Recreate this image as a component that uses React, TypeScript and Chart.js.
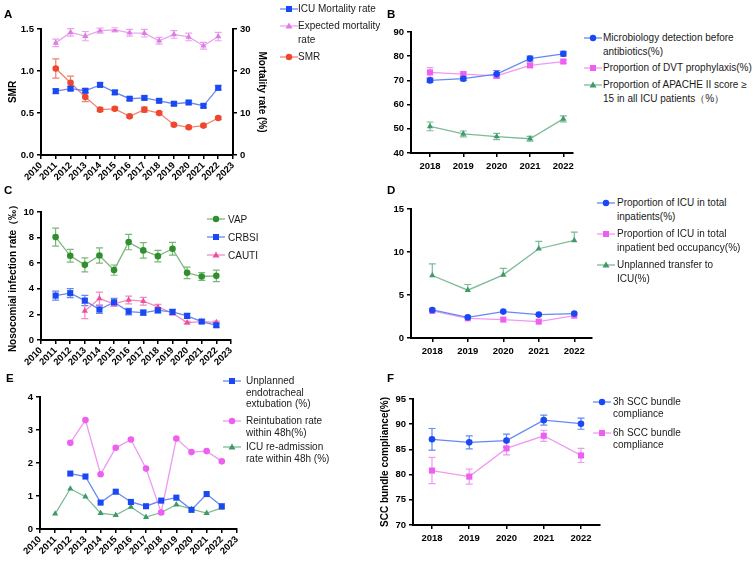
import React, { useEffect, useRef } from "react";
import Chart from "chart.js/auto";

// ---- data ----
const yearsLong = [2010, 2011, 2012, 2013, 2014, 2015, 2016, 2017, 2018, 2019, 2020, 2021, 2022, 2023];
const years11to22 = [2011, 2012, 2013, 2014, 2015, 2016, 2017, 2018, 2019, 2020, 2021, 2022];
const years12to22 = [2012, 2013, 2014, 2015, 2016, 2017, 2018, 2019, 2020, 2021, 2022];
const years13to22 = [2013, 2014, 2015, 2016, 2017, 2018, 2019, 2020, 2021, 2022];
const years5 = [2018, 2019, 2020, 2021, 2022];

// A
const icuMortality = [15.2, 15.8, 15.3, 16.7, 14.9, 13.4, 13.6, 12.9, 12.2, 12.5, 11.7, 16.0];
const icuMortalityErr = [0.5, 0.5, 0.5, 0.5, 0.5, 0.4, 0.4, 0.4, 0.4, 0.4, 0.4, 0.5];
const expMortality = [26.7, 29.2, 28.3, 29.6, 29.8, 29.1, 29.0, 27.2, 28.7, 28.1, 26.0, 28.2];
const expMortalityErr = [0.9, 0.9, 1.1, 0.6, 0.5, 0.8, 0.9, 0.8, 0.9, 0.9, 0.8, 1.0];
const smr = [1.03, 0.86, 0.69, 0.54, 0.55, 0.46, 0.54, 0.5, 0.36, 0.33, 0.35, 0.44];
const smrErr = [0.115, 0.08, 0.055, 0.02, 0.02, 0.015, 0.03, 0.015, 0.015, 0.015, 0.015, 0.015];

// B
const microDetection = [70.0, 70.7, 72.6, 79.0, 81.0];
const microDetectionErr = [0.8, 0.8, 1.5, 1.0, 1.0];
const dvtProphylaxis = [73.3, 72.6, 71.9, 76.2, 77.8];
const dvtProphylaxisErr = [2.0, 0.8, 0.8, 0.8, 0.8];
const apache15 = [51.0, 47.9, 46.8, 45.9, 54.1];
const apache15Err = [1.8, 1.2, 1.3, 1.0, 1.2];

// C
const vap = [8.04, 6.58, 5.87, 6.6, 5.46, 7.65, 7.0, 6.55, 7.13, 5.25, 4.96, 5.01];
const vapErr = [0.7, 0.5, 0.55, 0.6, 0.4, 0.6, 0.6, 0.45, 0.5, 0.45, 0.3, 0.45];
const crbsi = [3.47, 3.66, 3.08, 2.38, 2.95, 2.22, 2.14, 2.32, 2.19, 1.88, 1.44, 1.15];
const crbsiErr = [0.35, 0.35, 0.4, 0.3, 0.3, 0.25, 0.2, 0.2, 0.2, 0.2, 0.15, 0.15];
const cauti = [2.27, 3.24, 2.82, 3.13, 3.03, 2.58, 2.09, 1.36, 1.44, 1.38];
const cautiErr = [0.6, 0.5, 0.2, 0.3, 0.3, 0.2, 0.15, 0.1, 0.1, 0.1];

// D
const icuInpatients = [3.26, 2.41, 3.07, 2.72, 2.84];
const icuBedOccupancy = [3.15, 2.29, 2.14, 1.9, 2.6];
const unplannedTransfer = [7.27, 5.56, 7.34, 10.38, 11.35];
const unplannedTransferErr = [1.36, 0.66, 0.75, 0.85, 0.95];

// E
const unplannedExtubation = [1.68, 1.59, 0.8, 1.13, 0.82, 0.69, 0.86, 0.95, 0.58, 1.06, 0.69];
const reintubation = [2.61, 3.3, 1.66, 2.46, 2.71, 1.83, 0.5, 2.74, 2.33, 2.36, 2.05];
const readmission = [0.46, 1.22, 0.98, 0.48, 0.42, 0.67, 0.36, 0.5, 0.74, 0.6, 0.48, 0.64];

// F
const scc3h = [87.0, 86.4, 86.75, 90.8, 90.1];
const scc3hErr = [2.15, 1.3, 1.3, 1.0, 1.1];
const scc6h = [80.8, 79.6, 85.2, 87.7, 83.8];
const scc6hErr = [2.6, 1.5, 1.3, 1.1, 1.4];

// ---- colours ----
const BLUE = "#1a48f2";
const BLUE_L = "#6688f2";
const PINK = "#ee5ff0";
const PINK_L = "#f099f2";
const VIOLET = "#e07be6";
const VIOLET_L = "#eaa4ee";
const RED = "#ef4630";
const RED_L = "#f3816f";
const GREEN = "#2f8f2f";
const GREEN_L = "#79b879";
const TEAL = "#3f9a68";
const TEAL_L = "#7cbb98";
const ROSE = "#ee4f9e";
const ROSE_L = "#f28bc2";

const FONT = "'Liberation Sans', Arial, Helvetica, sans-serif";

const pts = (xs: number[], ys: number[]) => xs.map((x, i) => ({ x, y: ys[i] }));

// error bars drawn behind the points
const errorBars = {
  id: "errorBars",
  beforeDatasetsDraw(chart: any) {
    const ctx = chart.ctx;
    chart.data.datasets.forEach((ds: any, i: number) => {
      if (!ds.errors) return;
      const meta = chart.getDatasetMeta(i);
      const yScale = chart.scales[meta.yAxisID];
      ctx.save();
      ctx.strokeStyle = ds.borderColor;
      ctx.lineWidth = 1.2;
      meta.data.forEach((pt: any, j: number) => {
        const e = ds.errors[j];
        if (!e) return;
        const v = ds.data[j].y;
        const top = yScale.getPixelForValue(v + e);
        const bot = ds.upperOnly ? pt.y : yScale.getPixelForValue(v - e);
        ctx.beginPath();
        ctx.moveTo(pt.x, top);
        ctx.lineTo(pt.x, bot);
        ctx.moveTo(pt.x - 3.5, top);
        ctx.lineTo(pt.x + 3.5, top);
        if (!ds.upperOnly) {
          ctx.moveTo(pt.x - 3.5, bot);
          ctx.lineTo(pt.x + 3.5, bot);
        }
        ctx.stroke();
      });
      ctx.restore();
    });
  },
};

function series(
  xs: number[],
  ys: number[],
  color: string,
  lineColor: string,
  shape: string,
  errors?: number[],
  extra: any = {}
) {
  const radius = shape === "rect" ? 4.3 : shape === "triangle" ? 3.6 : 3.3;
  return {
    data: pts(xs, ys),
    borderColor: lineColor,
    backgroundColor: color,
    pointBackgroundColor: color,
    pointBorderColor: color,
    pointBorderWidth: 0,
    pointStyle: shape,
    pointRadius: radius,
    pointHoverRadius: radius,
    borderWidth: 1.3,
    tension: 0,
    fill: false,
    errors,
    ...extra,
  };
}

const tickFont = { family: FONT, weight: "bold" as const, size: 9.5 };
const titleFont = { family: FONT, weight: "bold" as const, size: 10 };

function axisY(opts: {
  min: number;
  max: number;
  step: number;
  width: number;
  title?: string;
  titleGap?: number;
  position?: string;
  decimals?: number;
}) {
  return {
    type: "linear",
    position: opts.position || "left",
    min: opts.min,
    max: opts.max,
    ticks: {
      stepSize: opts.step,
      color: "#000",
      font: tickFont,
      padding: 3,
      callback: (v: any) => Number(v).toFixed(opts.decimals || 0),
    },
    grid: { drawOnChartArea: false, drawTicks: true, tickLength: 4, color: "#000", lineWidth: 1.5 },
    border: { display: true, color: "#000", width: 2 },
    title: opts.title
      ? {
          display: true,
          text: opts.title,
          color: "#000",
          font: titleFont,
          padding: { top: opts.titleGap || 0, bottom: 2 },
        }
      : { display: false },
    afterFit: (s: any) => {
      s.width = opts.width;
    },
  };
}

function axisX(min: number, max: number, ticks: number[], height: number, rotate: boolean) {
  return {
    type: "linear",
    min,
    max,
    afterBuildTicks: (s: any) => {
      s.ticks = ticks.map((value) => ({ value }));
    },
    ticks: {
      autoSkip: false,
      color: "#000",
      font: tickFont,
      padding: rotate ? 1 : 4,
      maxRotation: rotate ? 45 : 0,
      minRotation: rotate ? 45 : 0,
      callback: (v: any) => String(v),
    },
    grid: { drawOnChartArea: false, drawTicks: true, tickLength: 4, color: "#000", lineWidth: 1.5 },
    border: { display: true, color: "#000", width: 2 },
    afterFit: (s: any) => {
      s.height = height;
    },
  };
}

function baseOptions(scales: any, padding: any) {
  return {
    responsive: true,
    maintainAspectRatio: false,
    animation: false,
    layout: { padding },
    plugins: { legend: { display: false }, tooltip: { enabled: false } },
    scales,
  };
}

const configA = {
  type: "line",
  data: {
    datasets: [
      series(years11to22, icuMortality, BLUE, BLUE_L, "rect", icuMortalityErr, { yAxisID: "y1" }),
      series(years11to22, expMortality, VIOLET, VIOLET_L, "triangle", expMortalityErr, { yAxisID: "y1" }),
      series(years11to22, smr, RED, RED_L, "circle", smrErr, { yAxisID: "y" }),
    ],
  },
  options: baseOptions(
    {
      x: axisX(2010, 2023, yearsLong, 30, true),
      y: axisY({ min: 0, max: 1.5, step: 0.5, width: 41, title: "SMR", titleGap: 7, decimals: 1 }),
      y1: axisY({
        min: 0,
        max: 30,
        step: 10,
        width: 42,
        title: "Mortality rate (%)",
        titleGap: 7,
        position: "right",
      }),
    },
    { top: 29, right: 0, left: 0, bottom: 0 }
  ),
  plugins: [errorBars],
};

const configB = {
  type: "line",
  data: {
    datasets: [
      series(years5, microDetection, BLUE, BLUE_L, "circle", microDetectionErr),
      series(years5, dvtProphylaxis, PINK, PINK_L, "rect", dvtProphylaxisErr),
      series(years5, apache15, TEAL, TEAL_L, "triangle", apache15Err),
    ],
  },
  options: baseOptions(
    {
      x: axisX(2017.43, 2022.29, years5, 27, false),
      y: axisY({ min: 40, max: 90, step: 10, width: 41 }),
    },
    { top: 32, right: 7, left: 0, bottom: 0 }
  ),
  plugins: [errorBars],
};

const configC = {
  type: "line",
  data: {
    datasets: [
      series(years11to22, vap, GREEN, GREEN_L, "circle", vapErr),
      series(years11to22, crbsi, BLUE, BLUE_L, "rect", crbsiErr),
      series(years13to22, cauti, ROSE, ROSE_L, "triangle", cautiErr),
    ],
  },
  options: baseOptions(
    {
      x: axisX(2010, 2023, yearsLong, 30, true),
      y: axisY({ min: 0, max: 10, step: 2, width: 41, title: "Nosocomial infection rate（‰）", titleGap: 7 }),
    },
    { top: 27, right: 7, left: 0, bottom: 0 }
  ),
  plugins: [errorBars],
};

const configD = {
  type: "line",
  data: {
    datasets: [
      series(years5, icuInpatients, BLUE, BLUE_L, "circle"),
      series(years5, icuBedOccupancy, PINK, PINK_L, "rect"),
      series(years5, unplannedTransfer, TEAL, TEAL_L, "triangle", unplannedTransferErr, { upperOnly: true }),
    ],
  },
  options: baseOptions(
    {
      x: axisX(2017.4, 2022.5, years5, 32, false),
      y: axisY({ min: 0, max: 15, step: 5, width: 41 }),
    },
    { top: 24, right: 8, left: 0, bottom: 0 }
  ),
  plugins: [errorBars],
};

const configE = {
  type: "line",
  data: {
    datasets: [
      series(years12to22, unplannedExtubation, BLUE, BLUE_L, "rect"),
      series(years12to22, reintubation, PINK, PINK_L, "circle"),
      series(years11to22, readmission, TEAL, TEAL_L, "triangle"),
    ],
  },
  options: baseOptions(
    {
      x: axisX(2010, 2023, yearsLong, 36, true),
      y: axisY({ min: 0, max: 4, step: 1, width: 40 }),
    },
    { top: 27, right: 6, left: 0, bottom: 0 }
  ),
  plugins: [errorBars],
};

const configF = {
  type: "line",
  data: {
    datasets: [
      series(years5, scc3h, BLUE, BLUE_L, "circle", scc3hErr),
      series(years5, scc6h, PINK, PINK_L, "rect", scc6hErr),
    ],
  },
  options: baseOptions(
    {
      x: axisX(2017.49, 2022.51, years5, 30, false),
      y: axisY({ min: 70, max: 95, step: 5, width: 43, title: "SCC bundle compliance(%)", titleGap: 9 }),
    },
    { top: 29, right: 5, left: 0, bottom: 0 }
  ),
  plugins: [errorBars],
};

function Panel({ left, top, width, height, config }: any) {
  const ref = useRef<HTMLCanvasElement | null>(null);
  useEffect(() => {
    if (!ref.current) return;
    const chart = new Chart(ref.current, config);
    return () => chart.destroy();
  }, [config]);
  return (
    <div style={{ position: "absolute", left, top, width, height }}>
      <canvas ref={ref}></canvas>
    </div>
  );
}

interface LegendItem {
  y: number;
  lines: string[];
  color: string;
  lineColor: string;
  shape: string;
}

function Marker({ shape, color, lineColor }: { shape: string; color: string; lineColor: string }) {
  return (
    <svg width={18} height={10} style={{ position: "absolute", left: 0, top: -5, overflow: "visible" }}>
      <line x1={0} y1={5} x2={18} y2={5} stroke={lineColor} strokeWidth={1.3} />
      {shape === "rect" && <rect x={6} y={2} width={6} height={6} fill={color} />}
      {shape === "circle" && <circle cx={9} cy={5} r={3.2} fill={color} />}
      {shape === "triangle" && <polygon points="9,1.5 12.5,7.5 5.5,7.5" fill={color} />}
    </svg>
  );
}

function Legend({ x, textX, lh, items }: { x: number; textX: number; lh: number; items: LegendItem[] }) {
  return (
    <>
      {items.map((it, i) => (
        <div key={i}>
          <div style={{ position: "absolute", left: x, top: it.y }}>
            <Marker shape={it.shape} color={it.color} lineColor={it.lineColor} />
          </div>
          <div
            style={{
              position: "absolute",
              left: textX,
              top: it.y - lh / 2,
              fontFamily: FONT,
              fontSize: 10,
              lineHeight: lh + "px",
              color: "#1a1a1a",
              whiteSpace: "nowrap",
            }}
          >
            {it.lines.map((l, k) => (
              <div key={k}>{l}</div>
            ))}
          </div>
        </div>
      ))}
    </>
  );
}

const letterStyle: React.CSSProperties = {
  position: "absolute",
  fontFamily: FONT,
  fontWeight: "bold",
  fontSize: 11.5,
  lineHeight: "12px",
  color: "#000",
};

export default function App() {
  return (
    <div style={{ position: "absolute", left: 0, top: 0, width: 753, height: 565, background: "#fff", overflow: "hidden" }}>
      <Panel left={0} top={0} width={275} height={185} config={configA} />
      <Panel left={370} top={0} width={210} height={180} config={configB} />
      <Panel left={0} top={185} width={240} height={185} config={configC} />
      <Panel left={370} top={185} width={230} height={185} config={configD} />
      <Panel left={0} top={370} width={246} height={195} config={configE} />
      <Panel left={370} top={370} width={235} height={185} config={configF} />

      <div style={{ ...letterStyle, left: 4, top: 8 }}>A</div>
      <div style={{ ...letterStyle, left: 387, top: 8 }}>B</div>
      <div style={{ ...letterStyle, left: 4, top: 184 }}>C</div>
      <div style={{ ...letterStyle, left: 387, top: 184 }}>D</div>
      <div style={{ ...letterStyle, left: 6, top: 372 }}>E</div>
      <div style={{ ...letterStyle, left: 387, top: 372 }}>F</div>

      <Legend
        x={280}
        textX={298}
        lh={14}
        items={[
          { y: 9, lines: ["ICU Mortality rate"], color: BLUE, lineColor: BLUE_L, shape: "rect" },
          { y: 26, lines: ["Expected mortality", "rate"], color: VIOLET, lineColor: VIOLET_L, shape: "triangle" },
          { y: 57, lines: ["SMR"], color: RED, lineColor: RED_L, shape: "circle" },
        ]}
      />
      <Legend
        x={584}
        textX={603}
        lh={13.5}
        items={[
          { y: 38, lines: ["Microbiology detection before", "antibiotics(%)"], color: BLUE, lineColor: BLUE_L, shape: "circle" },
          { y: 68, lines: ["Proportion of DVT prophylaxis(%)"], color: PINK, lineColor: PINK_L, shape: "rect" },
          {
            y: 85,
            lines: ["Proportion of APACHE II score ≥", "15 in all ICU patients（%）"],
            color: TEAL,
            lineColor: TEAL_L,
            shape: "triangle",
          },
        ]}
      />
      <Legend
        x={207}
        textX={228}
        lh={13}
        items={[
          { y: 219, lines: ["VAP"], color: GREEN, lineColor: GREEN_L, shape: "circle" },
          { y: 237, lines: ["CRBSI"], color: BLUE, lineColor: BLUE_L, shape: "rect" },
          { y: 255, lines: ["CAUTI"], color: ROSE, lineColor: ROSE_L, shape: "triangle" },
        ]}
      />
      <Legend
        x={597}
        textX={617}
        lh={13.5}
        items={[
          { y: 203, lines: ["Proportion of ICU in total", "inpatients(%)"], color: BLUE, lineColor: BLUE_L, shape: "circle" },
          {
            y: 234,
            lines: ["Proportion of ICU in total", "inpatient bed occupancy(%)"],
            color: PINK,
            lineColor: PINK_L,
            shape: "rect",
          },
          { y: 265, lines: ["Unplanned transfer to", "ICU(%)"], color: TEAL, lineColor: TEAL_L, shape: "triangle" },
        ]}
      />
      <Legend
        x={223}
        textX={246}
        lh={11.5}
        items={[
          {
            y: 381,
            lines: ["Unplanned", "endotracheal", "extubation (%)"],
            color: BLUE,
            lineColor: BLUE_L,
            shape: "rect",
          },
          { y: 421, lines: ["Reintubation rate", "within 48h(%)"], color: PINK, lineColor: PINK_L, shape: "circle" },
          {
            y: 447,
            lines: ["ICU re-admission", "rate within 48h (%)"],
            color: TEAL,
            lineColor: TEAL_L,
            shape: "triangle",
          },
        ]}
      />
      <Legend
        x={593}
        textX={613}
        lh={12}
        items={[
          { y: 402, lines: ["3h SCC bundle", "compliance"], color: BLUE, lineColor: BLUE_L, shape: "circle" },
          { y: 433, lines: ["6h SCC bundle", "compliance"], color: PINK, lineColor: PINK_L, shape: "rect" },
        ]}
      />
    </div>
  );
}
